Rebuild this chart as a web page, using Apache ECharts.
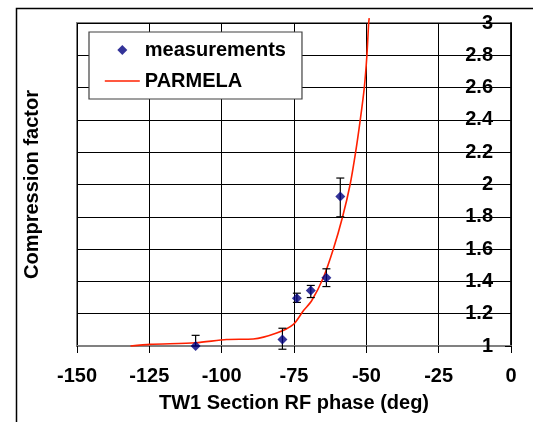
<!DOCTYPE html>
<html><head><meta charset="utf-8">
<script src="https://cdn.jsdelivr.net/npm/echarts@6/dist/echarts.min.js"></script>
<style>html,body{margin:0;padding:0;background:#fff;}#c{width:533px;height:422px;}</style>
</head><body><div id="c"></div>
<script>
// Measurements
const measX = [-109, -79, -74, -69.2, -63.8, -59];
const measY = [1.0, 1.04, 1.296, 1.344, 1.422, 1.926];
const errLow = [1.0, 0.98, 1.27, 1.30, 1.368, 1.80];
const errHigh = [1.066, 1.11, 1.327, 1.375, 1.478, 2.04];
// PARMELA simulation curve
const parmX = [-131.5, -124.8, -108.9, -98.3, -89.1, -81, -75.2, -71.7, -68.9, -64.8, -61.4, -58.2, -55.6, -53.7, -52.1, -50.7, -49.8, -49.2, -49.0];
const parmY = [1.0, 1.01, 1.02, 1.04, 1.043, 1.08, 1.134, 1.22, 1.28, 1.426, 1.6, 1.8, 2.0, 2.2, 2.4, 2.6, 2.8, 3.0, 3.03];
// Axis ticks
const xTicks = [-150, -125, -100, -75, -50, -25, 0];
const yTicks = [1, 1.2, 1.4, 1.6, 1.8, 2, 2.2, 2.4, 2.6, 2.8, 3];

const FONT = '"Liberation Sans", Arial, sans-serif';
const chart = echarts.init(document.getElementById('c'), null, {renderer: 'canvas'});

const measData = measX.map((x, i) => [x, measY[i]]);
const errData = measX.map((x, i) => [x, errLow[i], errHigh[i]]);
const parmData = parmX.map((x, i) => [x, parmY[i]]);

chart.setOption({
  animation: false,
  backgroundColor: '#fff',
  graphic: [{
    type: 'rect', left: 14, top: 6, z: 100,
    shape: {x: 0, y: 0, width: 600, height: 500},
    style: {fill: 'none', stroke: '#000', lineWidth: 1.5}
  }],
  grid: {left: 77, right: 22, top: 23, bottom: 76, show: true, borderColor: '#808080', borderWidth: 2, backgroundColor: '#fff'},
  legend: {
    orient: 'vertical', left: 89, top: 32,
    backgroundColor: '#fff', borderColor: '#404040', borderWidth: 1.2,
    padding: [8, 16, 8, 15], itemGap: 11, itemWidth: 35, itemHeight: 10,
    textStyle: {fontFamily: FONT, fontSize: 20, fontWeight: 'bold', color: '#000'},
    data: [
      {name: 'measurements', icon: 'path://M5,0L10,5L5,10L0,5Z', itemStyle: {color: '#000080'}},
      {name: 'PARMELA', itemStyle: {opacity: 0}, lineStyle: {color: '#ff2000', width: 1.6, opacity: 1}}
    ]
  },
  xAxis: {
    type: 'value', min: -150, max: 0, interval: 25,
    name: 'TW1 Section RF phase (deg)', nameLocation: 'middle', nameGap: 47,
    nameTextStyle: {fontFamily: FONT, fontSize: 20, fontWeight: 'bold', color: '#000'},
    axisLine: {show: true, onZero: false, lineStyle: {color: '#808080', width: 2}},
    axisTick: {show: true, inside: false, length: 7, lineStyle: {color: '#000'}},
    axisLabel: {margin: 20, fontFamily: FONT, fontSize: 20, fontWeight: 'bold', color: '#000',
      formatter: v => String(v)},
    splitLine: {show: true, lineStyle: {color: '#000', width: 1}}
  },
  yAxis: [{
    type: 'value', min: 1, max: 3, interval: 0.2, position: 'right',
    axisLine: {show: true, onZero: false, lineStyle: {color: '#000', width: 1.5}},
    axisTick: {show: true, inside: true, length: 6, lineStyle: {color: '#000'}},
    axisLabel: {inside: true, margin: 18, fontFamily: FONT, fontSize: 20, fontWeight: 'bold', color: '#000',
      formatter: v => String(+v.toFixed(1))},
    splitLine: {show: true, lineStyle: {color: '#000', width: 1}}
  }, {
    type: 'value', min: 1, max: 3, position: 'left',
    name: 'Compression factor', nameLocation: 'middle', nameGap: 35, nameRotate: 90,
    nameTextStyle: {fontFamily: FONT, fontSize: 20, fontWeight: 'bold', color: '#000'},
    axisLine: {show: false}, axisTick: {show: false}, axisLabel: {show: false}, splitLine: {show: false}
  }],
  series: [{
    name: 'PARMELA', type: 'line', data: parmData, showSymbol: false, symbol: 'none', smooth: 0.25,
    clip: false, lineStyle: {color: '#ff2000', width: 1.6}, itemStyle: {color: '#ff2000'}, z: 3
  }, {
    name: 'errbars', type: 'custom', data: errData, z: 4, clip: false,
    renderItem: function (params, api) {
      const x = api.value(0);
      const lo = api.coord([x, api.value(1)]);
      const hi = api.coord([x, api.value(2)]);
      const w = 4;
      const st = {stroke: '#000', lineWidth: 1.2};
      return {type: 'group', children: [
        {type: 'line', shape: {x1: lo[0], y1: lo[1], x2: hi[0], y2: hi[1]}, style: st},
        {type: 'line', shape: {x1: hi[0] - w, y1: hi[1], x2: hi[0] + w, y2: hi[1]}, style: st},
        {type: 'line', shape: {x1: lo[0] - w, y1: lo[1], x2: lo[0] + w, y2: lo[1]}, style: st}
      ]};
    }
  }, {
    name: 'measurements', type: 'scatter', data: measData, symbol: 'diamond', symbolSize: 10,
    itemStyle: {color: '#000080'}, z: 5, clip: false
  }]
});
</script></body></html>
